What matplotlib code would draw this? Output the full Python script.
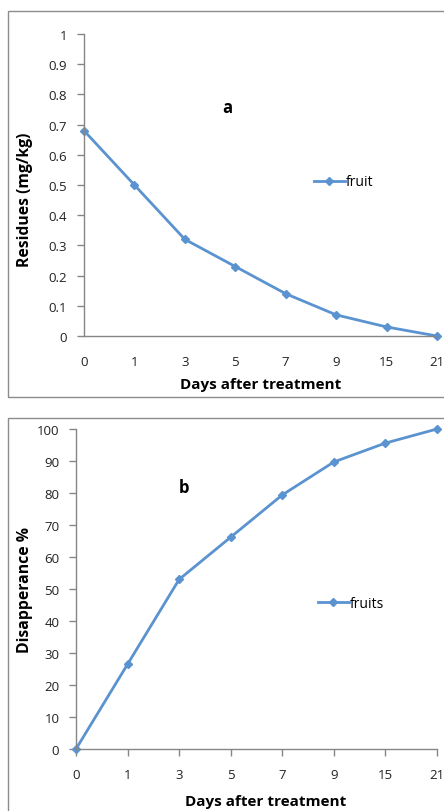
import matplotlib
matplotlib.use("Agg")
import matplotlib.pyplot as plt
from matplotlib.patches import Rectangle

days = ["0", "1", "3", "5", "7", "9", "15", "21"]
residues = [0.68, 0.50, 0.32, 0.23, 0.14, 0.07, 0.03, 0.00]
disappearance = [0, 26.5, 53.0, 66.2, 79.4, 89.7, 95.6, 100.0]
yticks_a = [0, 0.1, 0.2, 0.3, 0.4, 0.5, 0.6, 0.7, 0.8, 0.9, 1]
yticks_a_labels = ["0", "0.1", "0.2", "0.3", "0.4", "0.5", "0.6", "0.7", "0.8", "0.9", "1"]
yticks_b = [0, 10, 20, 30, 40, 50, 60, 70, 80, 90, 100]

plt.rcParams['font.family'] = ['Open Sans', 'DejaVu Sans']
W, H = 444, 812
fig = plt.figure(figsize=(W / 100, H / 100), dpi=100)
fig.patch.set_facecolor("white")

LINE = "#5A93CF"
AX = "#868686"

def px_axes(l, t, r, b):
    return fig.add_axes([l / W, 1 - b / H, (r - l) / W, (b - t) / H])

def ftext(x, y, s, **kw):
    fig.text(x / W, 1 - y / H, s, ha="center", va="center", **kw)

# frames
fig.patches.append(Rectangle((8 / W, 1 - 398 / H), 460 / W, 386 / H, transform=fig.transFigure,
                             fill=False, edgecolor="#8c8c8c", lw=1))
fig.patches.append(Rectangle((8 / W, 1 - 830 / H), 460 / W, 411 / H, transform=fig.transFigure,
                             fill=False, edgecolor="#8c8c8c", lw=1))

def style(ax, xtick_len):
    for s in ["top", "right"]:
        ax.spines[s].set_visible(False)
    for s in ["left", "bottom"]:
        ax.spines[s].set_color(AX)
        ax.spines[s].set_linewidth(1)
    ax.tick_params(axis="both", colors=AX, length=5, width=1, labelcolor="#222222", labelsize=9.5)
    ax.tick_params(axis="y", pad=7)
    ax.tick_params(axis="x", pad=14 - xtick_len, length=xtick_len)
    ax.set_xlim(0, len(days) - 1)
    ax.set_xticks(range(len(days)))
    ax.set_xticklabels(days)

# panel a
ax1 = px_axes(84, 35, 437, 337)
ax1.plot(range(len(days)), residues, color=LINE, lw=2, marker="D", ms=4.5, clip_on=False, label="fruit")
ax1.set_ylim(0, 1)
ax1.set_yticks(yticks_a)
ax1.set_yticklabels(yticks_a_labels)
style(ax1, 0)
ftext(25, 200, "Residues (mg/kg)", fontsize=11.3, fontweight="bold", rotation=90)
ftext(261, 385, "Days after treatment", fontsize=11, fontweight="bold")
ftext(227, 108, "a", fontsize=12, fontweight="bold")
ax1.legend(loc="center left", bbox_to_anchor=((314 - 84) / 353, (337 - 183) / 302), frameon=False,
           fontsize=10, handlelength=2.2, handletextpad=0.1, borderpad=0, borderaxespad=0)

# panel b
ax2 = px_axes(76, 430, 437, 750)
ax2.plot(range(len(days)), disappearance, color=LINE, lw=2, marker="D", ms=4.5, clip_on=False, label="fruits")
ax2.set_ylim(0, 100)
ax2.set_yticks(yticks_b)
style(ax2, 5)
ftext(25, 590, "Disapperance %", fontsize=11.3, fontweight="bold", rotation=90)
ftext(266, 802, "Days after treatment", fontsize=11, fontweight="bold")
ftext(184, 488, "b", fontsize=12, fontweight="bold")
ax2.legend(loc="center left", bbox_to_anchor=((318 - 76) / 361, (750 - 604) / 320), frameon=False,
           fontsize=10, handlelength=2.2, handletextpad=0.1, borderpad=0, borderaxespad=0)

fig.savefig("out.png", dpi=100)
